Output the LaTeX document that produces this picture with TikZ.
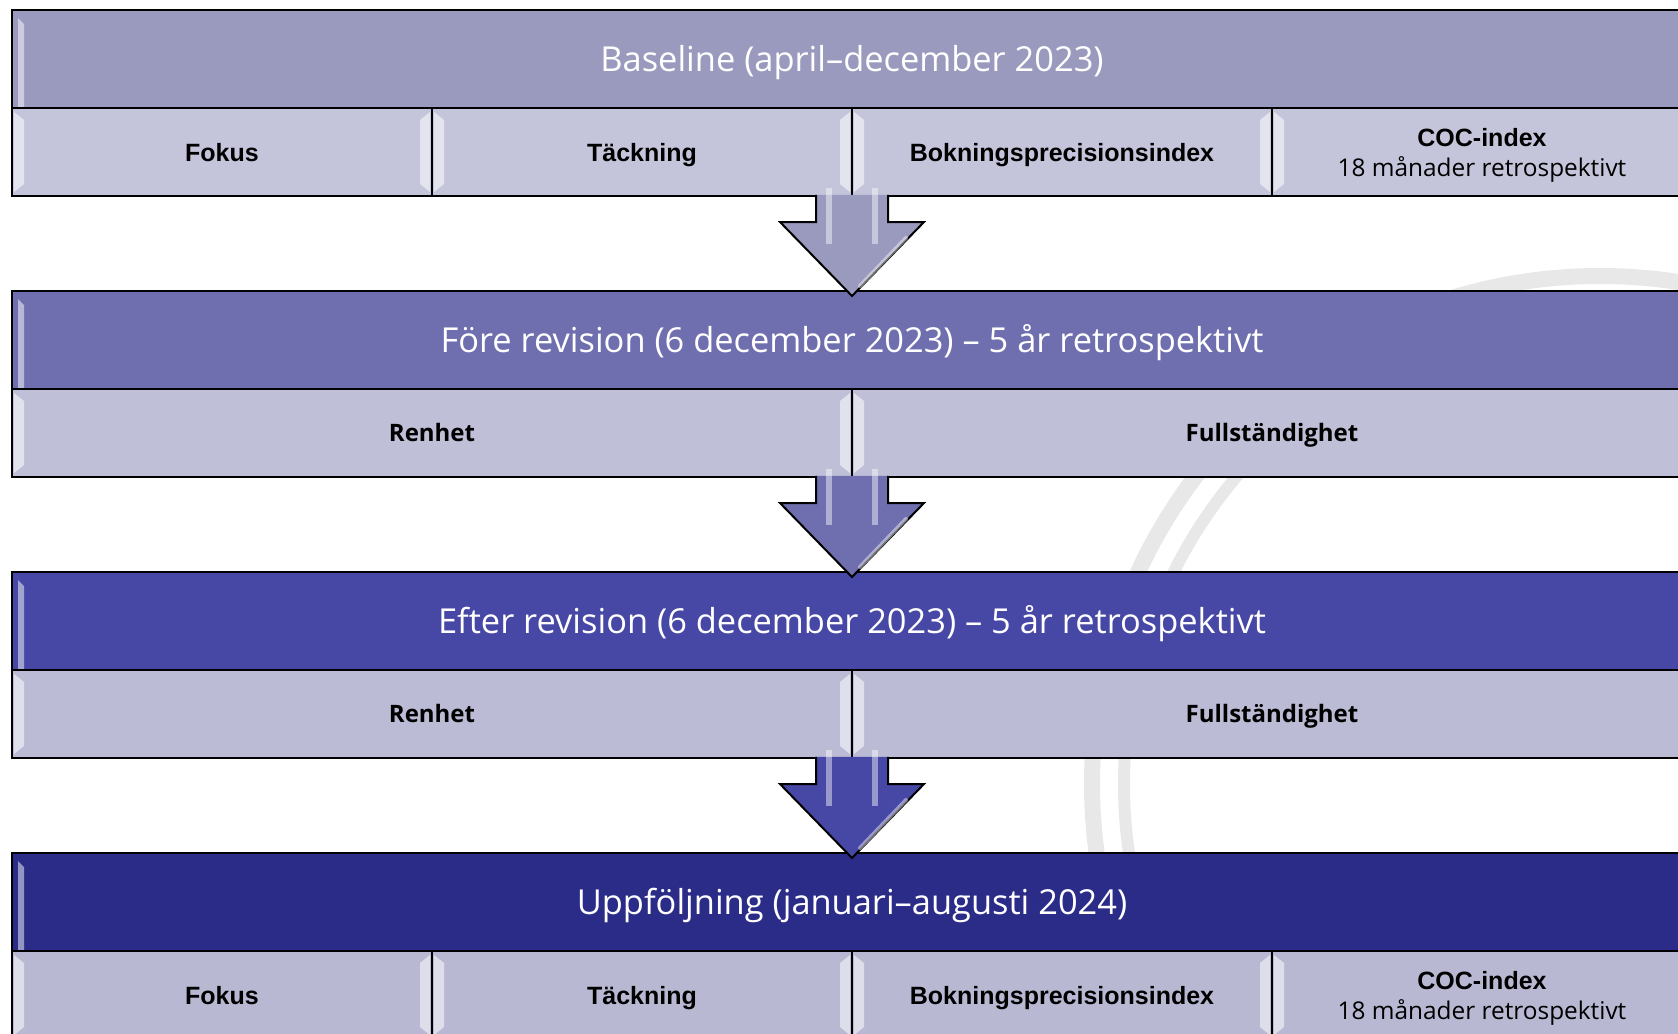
\documentclass[tikz,border=0pt]{standalone}
\usepackage{fontspec}
\setmainfont{Open Sans}
\newfontfamily\arialfont{Liberation Sans}
\usepackage{xcolor}
\usetikzlibrary{positioning,calc}

\definecolor{headA}{RGB}{154,154,190}
\definecolor{headB}{RGB}{111,111,176}
\definecolor{headC}{RGB}{71,71,166}
\definecolor{headD}{RGB}{43,44,136}
\definecolor{cellA}{RGB}{196,196,218}
\definecolor{cellB}{RGB}{191,191,215}
\definecolor{cellC}{RGB}{187,187,213}
\definecolor{cellD}{RGB}{184,184,210}

% glossy down arrow between two rows: #1 = bottom of row, #2 = top of next row
\newcommand{\flowarrow}[3]{%
	\filldraw[#3, draw=black, line width=1pt, line join=miter]
	($(#1)+(-18pt,0.6pt)$) -- ($(#1)+(-18pt,-13pt)$) -- ($(#1)+(-36pt,-13pt)$)
	-- ($(#2)+(0,-2.5pt)$) -- ($(#1)+(36pt,-13pt)$) -- ($(#1)+(18pt,-13pt)$)
	-- ($(#1)+(18pt,0.6pt)$);
	\fill[white, opacity=0.45] ($(#1)+(-13pt,4pt)$) rectangle ($(#1)+(-10pt,-24pt)$);
	\fill[white, opacity=0.45] ($(#1)+(10pt,4pt)$) rectangle ($(#1)+(13pt,-24pt)$);
	\draw[white, opacity=0.45, line width=2pt, line cap=round]
	($(#1)+(27pt,-21pt)$) -- ($(#1)+(4pt,-45pt)$);
}

\begin{document}
\begin{tikzpicture}[
		header/.style = {draw, line width=1pt, outer sep=0pt, minimum width=840pt, minimum height=49pt,
			text=white, font=\fontsize{17.2}{20}\selectfont, text height=12.3pt, text depth=0pt,
			path picture={\fill[white, opacity=0.5]
				([xshift=3pt,yshift=-4pt]path picture bounding box.north west) --
				([xshift=6pt,yshift=-7pt]path picture bounding box.north west) --
				([xshift=6pt]path picture bounding box.south west) --
				([xshift=3pt]path picture bounding box.south west) -- cycle;}},
		cell/.style = {draw, line width=1pt, outer sep=0pt, minimum height=44pt, align=center, inner sep=2pt,
			path picture={\fill[white, opacity=0.55]
				([xshift=1pt,yshift=-2pt]path picture bounding box.north west) --
				([xshift=6pt,yshift=-6pt]path picture bounding box.north west) --
				([xshift=6pt,yshift=6pt]path picture bounding box.south west) --
				([xshift=1pt,yshift=2pt]path picture bounding box.south west) -- cycle;
				\fill[white, opacity=0.55]
				([xshift=-1pt,yshift=-2pt]path picture bounding box.north east) --
				([xshift=-6pt,yshift=-6pt]path picture bounding box.north east) --
				([xshift=-6pt,yshift=6pt]path picture bounding box.south east) --
				([xshift=-1pt,yshift=2pt]path picture bounding box.south east) -- cycle;}},
		coc/.style = {cell, minimum width=210pt, font=\arialfont\bfseries\fontsize{12.5}{15}\selectfont},
		quarter/.style = {coc, text height=9pt, text depth=0pt},
		half/.style = {cell, minimum width=420pt, text height=8.6pt, text depth=0pt,
			font=\bfseries\fontsize{12}{15}\selectfont}
		]
		\useasboundingbox (0,0) rectangle (839pt,-517pt);
		
		% faint seal in the background
		\draw[black!9, line width=8pt] (800pt,-392pt) circle (254pt);
		\draw[black!9, line width=6pt] (800pt,-392pt) circle (238pt);
		
		% Row 1 ---------------------------------------------------------
		\node[header, fill=headA, anchor=north west] (base) at (6pt,-5pt) {Baseline (april--december 2023)};
		\node[quarter, fill=cellA, anchor=north west] (baseFokus) at (base.south west) {Fokus};
		\node[quarter, fill=cellA, right=0pt of baseFokus] (baseTack) {Täckning};
		\node[quarter, fill=cellA, right=0pt of baseTack] (baseBok) {Bokningsprecisionsindex};
		\node[coc, fill=cellA, right=0pt of baseBok] (baseCoc)
		{\rule{0pt}{12.4pt}COC-index\\{\normalfont\fontsize{12.2}{15}\selectfont 18 månader retrospektivt}};
		
		% Row 2 ---------------------------------------------------------
		\node[header, fill=headB, below=47.5pt of baseFokus.south west, anchor=north west] (fore)
		{Före revision (6 december 2023) -- 5 år retrospektivt};
		\node[half, fill=cellB, anchor=north west] (foreRen) at (fore.south west) {Renhet};
		\node[half, fill=cellB, right=0pt of foreRen] (foreFull) {Fullständighet};
		
		% Row 3 ---------------------------------------------------------
		\node[header, fill=headC, below=47.5pt of foreRen.south west, anchor=north west] (efter)
		{Efter revision (6 december 2023) -- 5 år retrospektivt};
		\node[half, fill=cellC, anchor=north west] (efterRen) at (efter.south west) {Renhet};
		\node[half, fill=cellC, right=0pt of efterRen] (efterFull) {Fullständighet};
		
		% Row 4 ---------------------------------------------------------
		\node[header, fill=headD, below=47.5pt of efterRen.south west, anchor=north west] (uppf)
		{Uppföljning (januari--augusti 2024)};
		\node[quarter, fill=cellD, anchor=north west] (uppfFokus) at (uppf.south west) {Fokus};
		\node[quarter, fill=cellD, right=0pt of uppfFokus] (uppfTack) {Täckning};
		\node[quarter, fill=cellD, right=0pt of uppfTack] (uppfBok) {Bokningsprecisionsindex};
		\node[coc, fill=cellD, right=0pt of uppfBok] (uppfCoc)
		{\rule{0pt}{12.4pt}COC-index\\{\normalfont\fontsize{12.2}{15}\selectfont 18 månader retrospektivt}};
		
		% Arrows --------------------------------------------------------
		\flowarrow{baseTack.south east}{fore.north}{headA}
		\flowarrow{foreRen.south east}{efter.north}{headB}
		\flowarrow{efterRen.south east}{uppf.north}{headC}
	\end{tikzpicture}
\end{document}
